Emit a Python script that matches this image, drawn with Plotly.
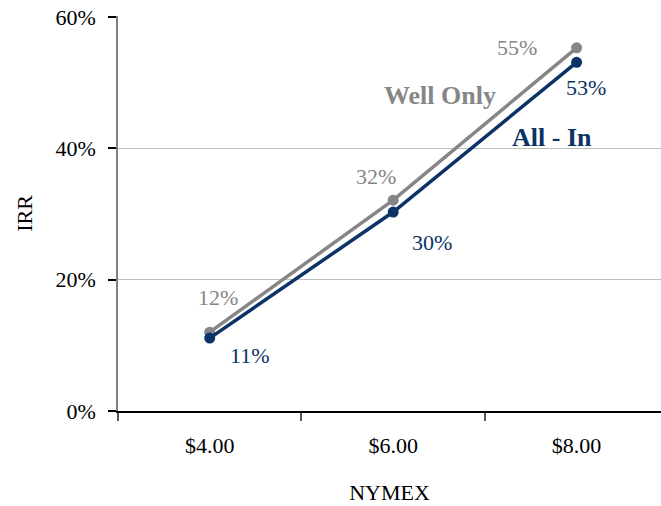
import plotly.graph_objects as go

categories = ["$4.00", "$6.00", "$8.00"]
well_only = [12.0, 32.1, 55.3]
all_in = [11.1, 30.3, 53.1]
y_ticks = [0, 20, 40, 60]
y_tick_labels = ["0%", "20%", "40%", "60%"]

GRAY = "#868686"
NAVY = "#0b3366"
FONT = "Liberation Serif, Times New Roman, serif"

fig = go.Figure()
fig.add_trace(go.Scatter(x=categories, y=well_only, mode="lines+markers", name="Well Only",
                         line=dict(color=GRAY, width=3.5), marker=dict(color=GRAY, size=11)))
fig.add_trace(go.Scatter(x=categories, y=all_in, mode="lines+markers", name="All - In",
                         line=dict(color=NAVY, width=3.5), marker=dict(color=NAVY, size=11)))

ann = []
well_shifts = [(8, 35), (-17, 24), (-60, 0)]
all_shifts = [(40, -17), (39, -30), (9, -25)]
for c, v, (dx, dy) in zip(categories, well_only, well_shifts):
    ann.append(dict(x=c, y=v, text=f"{round(v)}%", showarrow=False, xshift=dx, yshift=dy,
                    font=dict(family=FONT, size=22, color=GRAY)))
for c, v, (dx, dy) in zip(categories, all_in, all_shifts):
    ann.append(dict(x=c, y=v, text=f"{round(v)}%", showarrow=False, xshift=dx, yshift=dy,
                    font=dict(family=FONT, size=22, color=NAVY)))
ann.append(dict(x=categories[1], y=48.1, xshift=47, text="<b>Well Only</b>", showarrow=False,
                font=dict(family=FONT, size=26, color=GRAY)))
ann.append(dict(x=categories[2], y=41.7, xshift=-25, text="<b>All - In</b>", showarrow=False,
                font=dict(family=FONT, size=26, color=NAVY)))

fig.update_layout(
    width=661, height=506,
    margin=dict(l=118, r=0, t=16, b=95),
    paper_bgcolor="white", plot_bgcolor="white",
    showlegend=False,
    font=dict(family=FONT, size=22, color="black"),
    annotations=ann,
    xaxis=dict(type="category", range=[-0.5, 2.46], tickson="boundaries", automargin=False,
               ticks="outside", ticklen=8, tickcolor="#555555", tickwidth=1.5,
               ticklabelstandoff=14,
               showline=True, linecolor="black", linewidth=1.5, showgrid=False,
               tickfont=dict(family=FONT, size=22),
               title=dict(text="NYMEX", font=dict(family=FONT, size=22), standoff=27)),
    yaxis=dict(range=[0, 60.15], tickvals=y_ticks, ticktext=y_tick_labels, automargin=False,
               ticks="outside", ticklen=8, tickcolor="black", tickwidth=1.5,
               ticklabelstandoff=8, ticklabeloverflow="allow",
               showline=True, linecolor="#808080", linewidth=1.5,
               showgrid=True, gridcolor="#bdbdbd", gridwidth=1, zeroline=False,
               tickfont=dict(family=FONT, size=22),
               title=dict(text="IRR", font=dict(family=FONT, size=22), standoff=17)),
)

fig.write_html("out.html", config={"displayModeBar": False},
               post_script="document.body.style.margin='0';")
